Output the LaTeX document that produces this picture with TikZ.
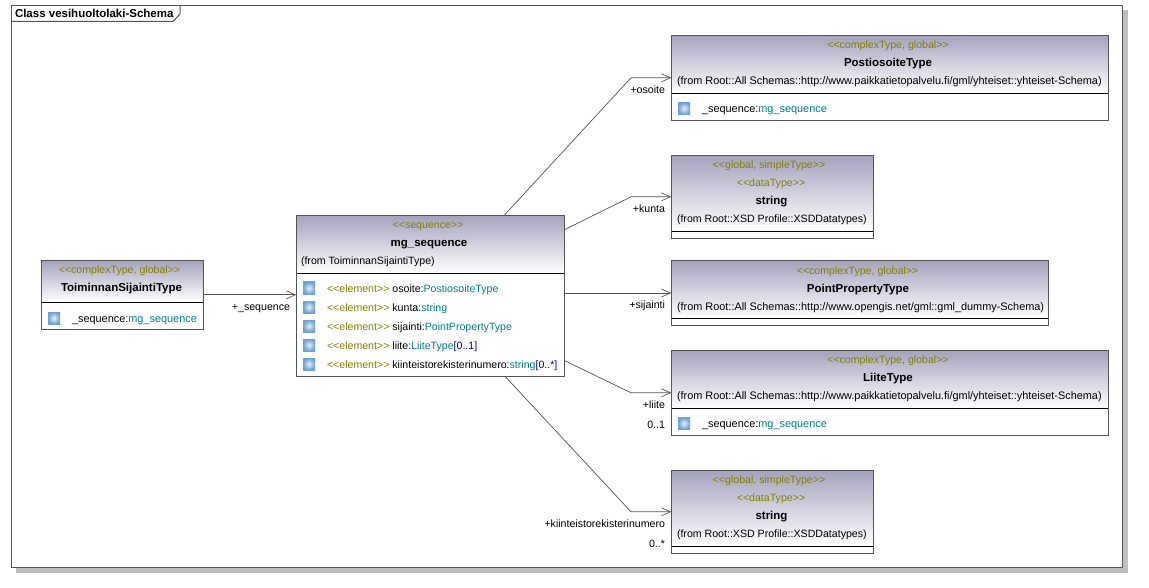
\documentclass[tikz,border=0pt]{standalone}
\usepackage{fontspec}
\setmainfont{Liberation Sans}
\usetikzlibrary{arrows.meta}

\definecolor{framecol}{gray}{0.33}
\definecolor{shadowcol}{gray}{0.75}
\definecolor{headcol}{RGB}{166,163,190}
\definecolor{stereocol}{RGB}{128,128,0}
\definecolor{typecol}{RGB}{0,128,128}
\definecolor{multcol}{RGB}{0,0,128}
\definecolor{iconcol}{RGB}{110,160,210}
\definecolor{iconmid}{RGB}{225,240,250}

\newcommand{\ster}[1]{\textcolor{stereocol}{<{}<#1>{}>}}
\newcommand{\typ}[1]{\textcolor{typecol}{#1}}
\newcommand{\mult}[1]{\textcolor{multcol}{#1}}

\tikzset{
  txt/.style={inner sep=0pt,outer sep=0pt,yshift=-0.5pt,font=\fontsize{10.6}{12}\selectfont},
  widetxt/.style={font=\fontsize{10.9}{12}\selectfont},
  boldtxt/.style={font=\fontsize{11.5}{13}\selectfont\bfseries},
  centertxt/.style={txt,anchor=base},
  lefttxt/.style={txt,anchor=base west},
  righttxt/.style={txt,anchor=base east},
  nametxt/.style={txt,anchor=base,boldtxt},
  classbox/.style={draw=framecol,line width=1pt,fill=white,anchor=north west,inner sep=0pt,outer sep=0pt},
  classhead/.style={classbox,draw=none,top color=headcol,bottom color=white},
  divider/.style={black,line width=1pt},
  attricon/.style={minimum size=12pt,inner sep=0pt,outer sep=0pt,inner color=iconmid,outer color=iconcol},
  assoc/.style={framecol,line width=0.7pt},
  assocarrow/.style={assoc,-{Straight Barb[length=9pt,width=8pt,line width=0.7pt]}}
}

\begin{document}
\begin{tikzpicture}[x=1pt,y=-1pt]
\useasboundingbox (0,0) rectangle (1149,588);

% frame
\fill[shadowcol] (16,10) rectangle (1128,573);
\filldraw[fill=white,draw=framecol,line width=1.2pt] (11.5,5.5) rectangle (1122.5,567.5);
\draw[framecol,line width=1pt] (11.5,21.5)--(173,21.5)--(180,14)--(180,5.5);
\node[lefttxt,boldtxt] (frametitle) at (15,17.5) {Class vesihuoltolaki-Schema};

% ToiminnanSijaintiType
\node[classbox,minimum width=162.4pt,minimum height=69pt] (toim) at (41.3,260.3) {};
\node[classhead,minimum width=161.4pt,minimum height=41pt] (toimhead) at (41.8,260.8) {};
\draw[divider] (41.3,302.3)--(203.7,302.3);
\draw[framecol,line width=1pt] (41.3,260.3) rectangle (203.7,329.3);
\node[centertxt] (toimster) at (119.5,273) {\ster{complexType, global}};
\node[nametxt] (toimname) at (121.5,291) {ToiminnanSijaintiType};
\node[attricon] (toimicon) at (54,318) {};
\node[lefttxt,widetxt] (toimattr) at (72,322) {\_sequence:\typ{mg\_sequence}};

% mg_sequence
\node[classbox,minimum width=268pt,minimum height=161pt] (mg) at (296.3,215.3) {};
\node[classhead,minimum width=267pt,minimum height=57.5pt] (mghead) at (296.8,215.8) {};
\draw[divider] (296.3,273.3)--(564.3,273.3);
\draw[framecol,line width=1pt] (296.3,215.3) rectangle (564.3,376.3);
\node[centertxt] (mgster) at (428,228) {\ster{sequence}};
\node[nametxt] (mgname) at (429,246) {mg\_sequence};
\node[lefttxt] (mgfrom) at (301,264) {(from ToiminnanSijaintiType)};
\foreach \i/\y/\attr in {1/292/{osoite:\typ{PostiosoiteType}},
                         2/311/{kunta:\typ{string}},
                         3/330/{sijainti:\typ{PointPropertyType}},
                         4/349/{liite:\typ{LiiteType}\mult{[0..1]}},
                         5/368/{kiinteistorekisterinumero:\typ{string}\mult{[0..*]}}}{
  \node[attricon] (mgicon\i) at (309,\y-4) {};
  \node[lefttxt] (mgattr\i) at (327,\y) {\ster{element} \attr};
}

% PostiosoiteType
\node[classbox,minimum width=437pt,minimum height=85pt] (posti) at (671.3,35.3) {};
\node[classhead,minimum width=436pt,minimum height=57.5pt] (postihead) at (671.8,35.8) {};
\draw[divider] (671.3,93.3)--(1108.3,93.3);
\draw[framecol,line width=1pt] (671.3,35.3) rectangle (1108.3,120.3);
\node[centertxt] (postister) at (888,48) {\ster{complexType, global}};
\node[nametxt] (postiname) at (888,66) {PostiosoiteType};
\node[lefttxt,widetxt] (postifrom) at (677,84) {(from Root::All Schemas::http://www.paikkatietopalvelu.fi/gml/yhteiset::yhteiset-Schema)};
\node[attricon] (postiicon) at (684,108.3) {};
\node[lefttxt,widetxt] (postiattr) at (702,112) {\_sequence:\typ{mg\_sequence}};

% string
\node[classbox,minimum width=202pt,minimum height=83pt] (kuntastr) at (671.3,155.3) {};
\node[classhead,minimum width=201pt,minimum height=75.5pt] (kuntahead) at (671.8,155.8) {};
\draw[divider] (671.3,231.3)--(873.3,231.3);
\draw[framecol,line width=1pt] (671.3,155.3) rectangle (873.3,238.3);
\node[centertxt] (kuntaster) at (769,168.3) {\ster{global, simpleType}};
\node[centertxt] (kuntadata) at (771,186.3) {\ster{dataType}};
\node[nametxt] (kuntaname) at (771.5,204.3) {string};
\node[lefttxt] (kuntafrom) at (677,222.3) {(from Root::XSD Profile::XSDDatatypes)};

% PointPropertyType
\node[classbox,minimum width=377pt,minimum height=64.6pt] (point) at (671.3,260.7) {};
\node[classhead,minimum width=376pt,minimum height=57pt] (pointhead) at (671.8,261.2) {};
\draw[divider] (671.3,318.3)--(1048.3,318.3);
\draw[framecol,line width=1pt] (671.3,260.7) rectangle (1048.3,325.3);
\node[centertxt] (pointster) at (857.5,273.7) {\ster{complexType, global}};
\node[nametxt] (pointname) at (858,291.7) {PointPropertyType};
\node[lefttxt,widetxt] (pointfrom) at (677,309.7) {(from Root::All Schemas::http://www.opengis.net/gml::gml\_dummy-Schema)};

% LiiteType
\node[classbox,minimum width=437pt,minimum height=85pt] (liite) at (671.3,350.3) {};
\node[classhead,minimum width=436pt,minimum height=57.5pt] (liitehead) at (671.8,350.8) {};
\draw[divider] (671.3,408.3)--(1108.3,408.3);
\draw[framecol,line width=1pt] (671.3,350.3) rectangle (1108.3,435.3);
\node[centertxt] (liiteter) at (888,363.3) {\ster{complexType, global}};
\node[nametxt] (liitename) at (888,381.3) {LiiteType};
\node[lefttxt,widetxt] (liitefrom) at (677,399.3) {(from Root::All Schemas::http://www.paikkatietopalvelu.fi/gml/yhteiset::yhteiset-Schema)};
\node[attricon] (liiteicon) at (684,423.3) {};
\node[lefttxt,widetxt] (liiteattr) at (702,427.3) {\_sequence:\typ{mg\_sequence}};

% string
\node[classbox,minimum width=202pt,minimum height=83pt] (kiintstr) at (671.3,470.3) {};
\node[classhead,minimum width=201pt,minimum height=75.5pt] (kiinthead) at (671.8,470.8) {};
\draw[divider] (671.3,546.3)--(873.3,546.3);
\draw[framecol,line width=1pt] (671.3,470.3) rectangle (873.3,553.3);
\node[centertxt] (kiintster) at (769,483.3) {\ster{global, simpleType}};
\node[centertxt] (kiintdata) at (771,501.3) {\ster{dataType}};
\node[nametxt] (kiintname) at (771.5,519.3) {string};
\node[lefttxt] (kiintfrom) at (677,537.3) {(from Root::XSD Profile::XSDDatatypes)};

% connectors
\coordinate (osoitebend) at (631,77.8);
\coordinate (kuntabend) at (631,196.8);
\coordinate (liitebend) at (631,392.8);
\coordinate (kiintbend) at (631,511.8);

\draw[assocarrow] (toim.east)--(toim.east -| mg.west);
\draw[assocarrow] (mg)--(osoitebend)--(posti.west);
\draw[assocarrow] (mg)--(kuntabend)--(kuntastr.west);
\draw[assocarrow] (point.west -| mg.east)--(point.west);
\draw[assocarrow] (mg)--(liitebend)--(liite.west);
\draw[assocarrow] (mg)--(kiintbend)--(kiintstr.west);

% connector labels
\node[righttxt] (seqrole) at (290,309.5) {+\_sequence};
\node[righttxt] (osoiterole) at (665,92.7) {+osoite};
\node[righttxt] (kuntarole) at (665,211.7) {+kunta};
\node[righttxt] (sijaintirole) at (665,307.7) {+sijainti};
\node[righttxt] (liiterole) at (665,407.7) {+liite};
\node[righttxt] (liitemult) at (665,428) {0..1};
\node[righttxt] (kiintrole) at (665,526.7) {+kiinteistorekisterinumero};
\node[righttxt] (kiintmult) at (665,546.7) {0..*};

\end{tikzpicture}
\end{document}
